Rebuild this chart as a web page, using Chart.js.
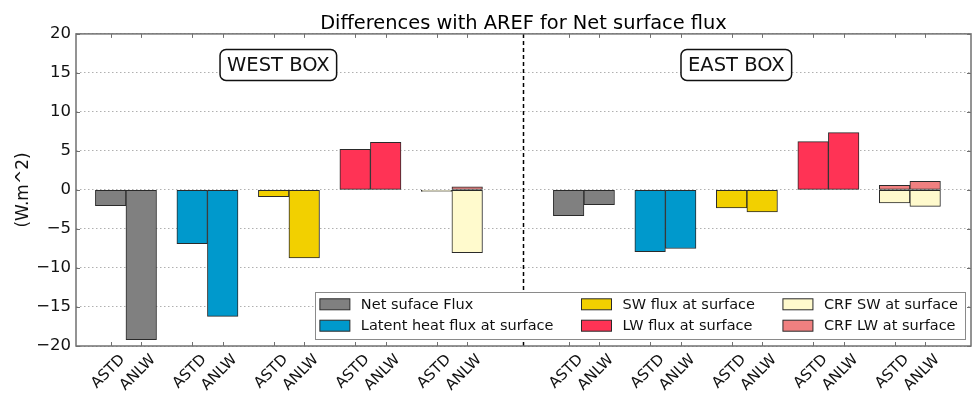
<!DOCTYPE html>
<html>
<head>
<meta charset="utf-8">
<script src="https://cdn.jsdelivr.net/npm/chart.js@4.4.1/dist/chart.umd.min.js"></script>
<style>
  html, body { margin: 0; padding: 0; background: #fff; }
  #wrap { width: 972px; height: 394px; }
</style>
</head>
<body>
<div id="wrap"><canvas id="fluxChart"></canvas></div>
<script>
// data (W.m^2, difference with AREF)
var boxNames = ['WEST BOX', 'EAST BOX'];
var models = ['ASTD', 'ANLW'];
var seriesNames = ['Net suface Flux', 'Latent heat flux at surface', 'SW flux at surface',
                   'LW flux at surface', 'CRF SW at surface', 'CRF LW at surface'];
var seriesGroup = [0, 1, 2, 3, 4, 4]; // CRF SW / CRF LW share the same slot
var westASTD = [-2.0, -6.9, -0.85, 5.2, -0.18, 0.0];
var westANLW = [-19.2, -16.2, -8.7, 6.1, -8.05, 0.4];
var eastASTD = [-3.3, -7.9, -2.3, 6.2, -1.65, 0.6];
var eastANLW = [-1.9, -7.5, -2.8, 7.35, -2.1, 1.1];
var yTicks = [-20, -15, -10, -5, 0, 5, 10, 15, 20];

// styles
var seriesColors = ['#808080', '#0099cc', '#f2d000', '#ff3355', '#fffacd', '#f08080'];
var edgeColor = '#2a2a2a';
var fontFamily = '"DejaVu Sans", sans-serif';

// layout (x in units of one group spacing)
var barWidth = 0.375;
var eastShift = 5.62;
var xMin = -0.613, xMax = 10.37;
var boxLabelX = 1.87;

function slotX(box, group, model) {
    return box * eastShift + group + (model === 0 ? -barWidth / 2 : barWidth / 2);
}

var boxValues = [[westASTD, westANLW], [eastASTD, eastANLW]];

var datasets = seriesNames.map(function (name, s) {
    var pts = [];
    boxValues.forEach(function (vals, b) {
        vals.forEach(function (arr, m) {
            pts.push({ x: slotX(b, seriesGroup[s], m), y: arr[s] });
        });
    });
    return {
        label: name,
        data: pts,
        backgroundColor: seriesColors[s],
        borderColor: edgeColor,
        borderWidth: 1,
        borderSkipped: false,
        grouped: false,
        barPercentage: 1,
        categoryPercentage: 1
    };
});

// x ticks: one per bar slot, labelled with the model name
var xTickList = [];
boxNames.forEach(function (bn, b) {
    for (var g = 0; g < 5; g++) {
        models.forEach(function (m, mi) {
            xTickList.push({ value: slotX(b, g, mi), label: m });
        });
    }
});

// frame, inward ticks, divider, box labels and legend
var decorPlugin = {
    id: 'decor',
    afterDraw: function (chart) {
        var ctx = chart.ctx;
        var a = chart.chartArea;
        var xs = chart.scales.x, ys = chart.scales.y;
        ctx.save();

        // dashed divider in the middle of the axis
        var midX = xs.getPixelForValue((xMin + xMax) / 2);
        ctx.strokeStyle = '#000';
        ctx.lineWidth = 1.5;
        ctx.setLineDash([4, 3]);
        ctx.beginPath();
        ctx.moveTo(midX, a.top);
        ctx.lineTo(midX, a.bottom);
        ctx.stroke();
        ctx.setLineDash([]);

        // frame
        ctx.strokeStyle = '#707070';
        ctx.lineWidth = 1.5;
        ctx.strokeRect(a.left, a.top, a.right - a.left, a.bottom - a.top);

        // inward tick marks
        ctx.lineWidth = 1;
        ctx.strokeStyle = '#707070';
        ctx.beginPath();
        xTickList.forEach(function (t) {
            var px = Math.round(xs.getPixelForValue(t.value)) + 0.5;
            ctx.moveTo(px, a.top); ctx.lineTo(px, a.top + 4);
            ctx.moveTo(px, a.bottom); ctx.lineTo(px, a.bottom - 4);
        });
        yTicks.forEach(function (v) {
            var py = Math.round(ys.getPixelForValue(v)) + 0.5;
            ctx.moveTo(a.left, py); ctx.lineTo(a.left + 4, py);
            ctx.moveTo(a.right, py); ctx.lineTo(a.right - 4, py);
        });
        ctx.stroke();

        // WEST / EAST box labels
        ctx.font = '19.5px ' + fontFamily;
        ctx.textAlign = 'center';
        ctx.textBaseline = 'middle';
        boxNames.forEach(function (bn, b) {
            var cx = xs.getPixelForValue(boxLabelX + b * eastShift);
            var cy = a.top + 31;
            var w = ctx.measureText(bn).width + 14, h = 31, r = 6;
            var x0 = cx - w / 2, y0 = cy - h / 2;
            ctx.beginPath();
            ctx.moveTo(x0 + r, y0);
            ctx.arcTo(x0 + w, y0, x0 + w, y0 + h, r);
            ctx.arcTo(x0 + w, y0 + h, x0, y0 + h, r);
            ctx.arcTo(x0, y0 + h, x0, y0, r);
            ctx.arcTo(x0, y0, x0 + w, y0, r);
            ctx.closePath();
            ctx.fillStyle = '#fff';
            ctx.fill();
            ctx.strokeStyle = '#111';
            ctx.lineWidth = 1.5;
            ctx.stroke();
            ctx.fillStyle = '#111';
            ctx.fillText(bn, cx, cy + 1);
        });

        // legend, 3 columns x 2 rows, lower right
        ctx.font = '14.5px ' + fontFamily;
        var cols = [[0, 1], [2, 3], [4, 5]];
        var swW = 30, swH = 11, swGap = 11, colGap = 28, padL = 5, padR = 7;
        var rowH = 21.4, padT = 12, padB = 13.3;
        var colW = cols.map(function (c) {
            return swW + swGap + Math.max.apply(null, c.map(function (i) {
                return ctx.measureText(seriesNames[i]).width;
            }));
        });
        var width = padL + padR + colGap * (cols.length - 1);
        colW.forEach(function (w) { width += w; });
        var height = padT + rowH + padB;
        var right = a.right - 6, bottom = a.bottom - 7;
        var left = right - width, top = bottom - height;
        ctx.fillStyle = '#fff';
        ctx.fillRect(left, top, width, height);
        ctx.strokeStyle = '#8a8a8a';
        ctx.lineWidth = 1;
        ctx.strokeRect(Math.round(left) + 0.5, Math.round(top) + 0.5, Math.round(width), Math.round(height));
        ctx.textAlign = 'left';
        ctx.textBaseline = 'middle';
        var cx0 = left + padL;
        cols.forEach(function (c, ci) {
            c.forEach(function (s, ri) {
                var cy = top + padT + ri * rowH;
                ctx.fillStyle = seriesColors[s];
                ctx.fillRect(cx0, cy - swH / 2, swW, swH);
                ctx.strokeStyle = edgeColor;
                ctx.strokeRect(cx0, cy - swH / 2, swW, swH);
                ctx.fillStyle = '#111';
                ctx.fillText(seriesNames[s], cx0 + swW + swGap, cy + 1);
            });
            cx0 += colW[ci] + colGap;
        });

        ctx.restore();
    }
};

var ctx = document.getElementById('fluxChart').getContext('2d');
var fluxChart = new Chart(ctx, {
    type: 'bar',
    data: { datasets: datasets },
    options: {
        responsive: true,
        maintainAspectRatio: false,
        animation: false,
        events: [],
        layout: { padding: { left: 0, right: 1, top: 0, bottom: 0 } },
        plugins: {
            legend: { display: false },
            tooltip: { enabled: false },
            title: {
                display: true,
                fullSize: false, // centre over the plot area, not the canvas
                text: 'Differences with AREF for Net surface flux',
                color: '#000',
                font: { family: fontFamily, size: 19.4, weight: 'normal', lineHeight: 1 },
                padding: { top: 14, bottom: 0.5 }
            }
        },
        scales: {
            x: {
                type: 'linear',
                min: xMin,
                max: xMax,
                offset: false,
                grid: { display: false, drawTicks: false, offset: false },
                border: { display: false },
                afterBuildTicks: function (scale) {
                    scale.ticks = xTickList.map(function (t) { return { value: t.value }; });
                },
                afterFit: function (scale) { scale.height = 48; },
                ticks: {
                    autoSkip: false,
                    minRotation: 45,
                    maxRotation: 45,
                    padding: 5,
                    labelOffset: 12,
                    color: '#111',
                    font: { family: fontFamily, size: 15 },
                    callback: function (value, index) { return xTickList[index].label; }
                }
            },
            y: {
                min: -20,
                max: 20,
                grid: { color: '#b0b0b0', drawTicks: false, lineWidth: 1 },
                border: { display: false, dash: [1.5, 2.5] },
                afterBuildTicks: function (scale) {
                    scale.ticks = yTicks.map(function (v) { return { value: v }; });
                },
                afterFit: function (scale) { scale.width = 76; },
                title: {
                    display: true,
                    text: '(W.m^2)',
                    color: '#111',
                    font: { family: fontFamily, size: 17 },
                    padding: { top: 13, bottom: 0 }
                },
                ticks: {
                    padding: 5,
                    color: '#111',
                    font: { family: fontFamily, size: 16.5 },
                    callback: function (value) { return String(value).replace('-', '\u2212'); }
                }
            }
        }
    },
    plugins: [decorPlugin]
});
</script>
</body>
</html>
